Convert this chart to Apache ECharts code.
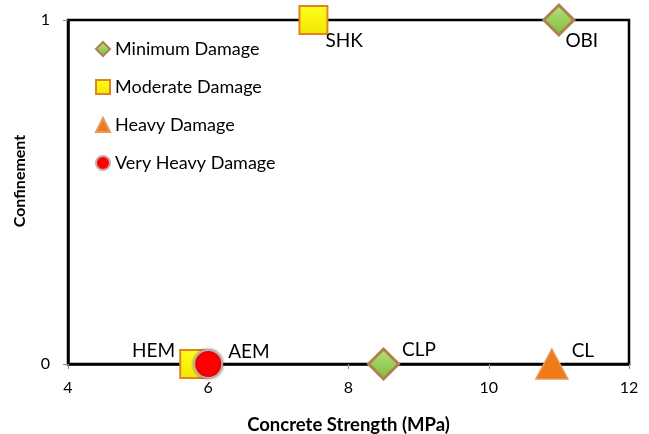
<!DOCTYPE html>
<html>
<head>
<meta charset="utf-8">
<script src="https://cdn.jsdelivr.net/npm/echarts@6/dist/echarts.min.js"></script>
<style>
  html, body { margin: 0; padding: 0; background: #fff; }
  #chart { width: 649px; height: 434px; }
</style>
</head>
<body>
<div id="chart"></div>
<script>
// damage classes (legend order)
var damageLevels = ['Minimum Damage', 'Moderate Damage', 'Heavy Damage', 'Very Heavy Damage'];

// specimens
var specimenNames = ['OBI', 'CLP', 'SHK', 'HEM', 'CL', 'AEM'];
var concreteStrength = [11, 8.5, 7.5, 5.8, 10.9, 6];
var confinement = [1, 0, 1, 0, 0, 0];
var specimenDamage = ['Minimum Damage', 'Minimum Damage', 'Moderate Damage', 'Moderate Damage', 'Heavy Damage', 'Very Heavy Damage'];

var xTicks = [4, 6, 8, 10, 12];
var yTicks = [0, 1];

var FONT = 'Lato';

// how each label sits next to its marker
var labelPlace = {
  OBI: { position: 'right', offset: [-10, 21] },
  CLP: { position: 'right', offset: [2, -14] },
  SHK: { position: 'right', offset: [-3, 21] },
  HEM: { position: 'left', offset: [-4, -13] },
  CL:  { position: 'right', offset: [3, -13] },
  AEM: { position: 'right', offset: [5, -12] }
};

var styles = {
  'Minimum Damage': {
    symbol: 'diamond', size: 30,
    item: {
      color: new echarts.graphic.LinearGradient(0, 0, 0, 1, [
        { offset: 0, color: '#b6e27c' }, { offset: 1, color: '#7dbb3c' }]),
      borderColor: '#b0814f', borderWidth: 3
    }
  },
  'Moderate Damage': {
    symbol: 'rect', size: 28,
    item: {
      color: new echarts.graphic.LinearGradient(0, 0, 0, 1, [
        { offset: 0, color: '#ffff22' }, { offset: 1, color: '#f2e600' }]),
      borderColor: '#e0841e', borderWidth: 2
    }
  },
  'Heavy Damage': {
    symbol: 'triangle', size: [32, 30],
    item: { color: '#f07a18', borderColor: '#e39a62', borderWidth: 1.5 }
  },
  'Very Heavy Damage': {
    symbol: 'circle', size: 28,
    item: { color: '#ff0000', borderColor: '#c8a8a8', borderWidth: 2, shadowBlur: 3, shadowColor: 'rgba(0,0,0,0.35)' }
  }
};

var series = damageLevels.map(function (level) {
  var st = styles[level];
  var data = [];
  for (var i = 0; i < specimenNames.length; i++) {
    if (specimenDamage[i] !== level) continue;
    var lp = labelPlace[specimenNames[i]];
    data.push({
      name: specimenNames[i],
      value: [concreteStrength[i], confinement[i]],
      label: { position: lp.position, offset: lp.offset }
    });
  }
  var item = Object.assign({ opacity: 1 }, st.item);
  return {
    name: level,
    type: 'scatter',
    symbol: st.symbol,
    symbolSize: st.size,
    clip: false,
    z: 5,
    itemStyle: item,
    label: {
      show: true,
      distance: 0,
      formatter: '{b}',
      color: '#000',
      fontFamily: FONT,
      fontSize: 19
    },
    emphasis: { disabled: true },
    data: data
  };
});

var chart = echarts.init(document.getElementById('chart'), null, { renderer: 'canvas' });
chart.setOption({
  animation: false,
  backgroundColor: '#fff',
  grid: {
    left: 68, right: 20, top: 20, bottom: 70,
    outerBoundsMode: 'none',
    containLabel: false,
    show: true, borderColor: '#000', borderWidth: 2.5, backgroundColor: 'transparent'
  },
  legend: {
    orient: 'vertical',
    left: 90, top: 35,
    itemWidth: 14, itemHeight: 14,
    itemGap: 20,
    textStyle: { fontFamily: FONT, fontSize: 18, color: '#000', lineHeight: 18 },
    data: damageLevels
  },
  xAxis: {
    type: 'value',
    min: xTicks[0], max: xTicks[xTicks.length - 1], interval: 2,
    name: 'Concrete Strength (MPa)',
    nameLocation: 'middle', nameGap: 52,
    nameTextStyle: { fontFamily: FONT, fontWeight: 'bold', fontSize: 18.5, color: '#000' },
    axisLine: { lineStyle: { color: '#000', width: 2.5 } },
    axisTick: { show: true, length: 5, lineStyle: { color: '#888' } },
    axisLabel: { margin: 16, fontFamily: FONT, fontSize: 16, color: '#000' },
    splitLine: { show: false }
  },
  yAxis: {
    type: 'value',
    min: yTicks[0], max: yTicks[yTicks.length - 1], interval: 1,
    name: 'Confinement',
    nameLocation: 'middle', nameGap: 40,
    nameTextStyle: { fontFamily: FONT, fontWeight: 'bold', fontSize: 16, color: '#000', padding: [0, 0, 0, 22] },
    axisLine: { lineStyle: { color: '#000', width: 2.5 } },
    axisTick: { show: true, length: 5, lineStyle: { color: '#888' } },
    axisLabel: { margin: 18, fontFamily: FONT, fontSize: 16, color: '#000' },
    splitLine: { show: false }
  },
  series: series
});
</script>
</body>
</html>
